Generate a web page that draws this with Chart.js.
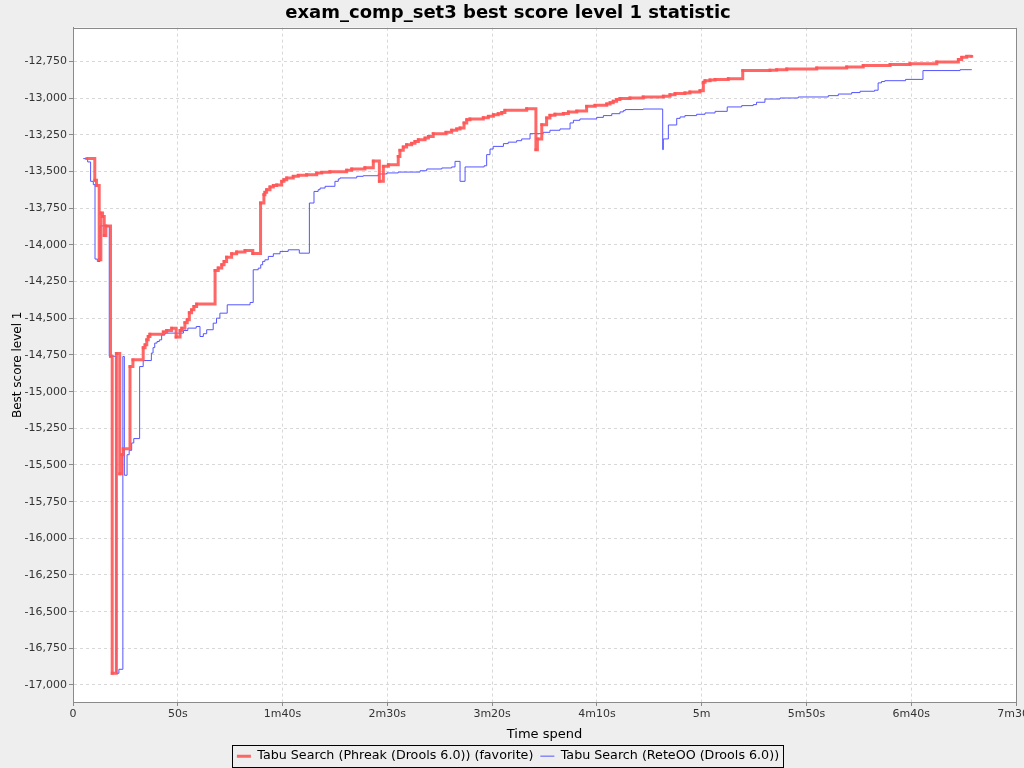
<!DOCTYPE html>
<html>
<head>
<meta charset="utf-8">
<script src="https://cdn.jsdelivr.net/npm/chart.js@4/dist/chart.umd.min.js"></script>
<style>
  html, body { margin: 0; padding: 0; background: #EEEEEE; }
  #box { width: 1024px; height: 768px; }
</style>
</head>
<body>
<div id="box"><canvas id="grafico" width="1024" height="768"></canvas></div>
<script>
// tempi in secondi, punteggi
var timeTickLabels = ['0', '50s', '1m40s', '2m30s', '3m20s', '4m10s', '5m', '5m50s', '6m40s', '7m30s'];

var redLabel = 'Tabu Search (Phreak (Drools 6.0)) (favorite)';
var redTimes = [6.5, 10.4, 11.2, 12.5, 13.3, 14.1, 14.9, 15.7, 17.9, 18.7, 20.7, 22.3, 23.2, 24.0, 27.2, 28.6,
  33.5, 34.4, 35.2, 35.9, 36.7, 43.1, 44.7, 47.1, 49.2, 51.1, 51.9, 53.4, 54.5, 55.5, 56.6, 57.7, 59.0,
  67.8, 69.3, 71.0, 72.1, 73.3, 75.7, 78.1, 82.1, 85.8, 89.5, 91.1, 91.6, 92.4, 94.0, 95.6, 97.2, 99.6,
  100.7, 102.0, 105.1, 107.5, 111.5, 116.3, 118.7, 122.6, 130.6, 133.0, 139.3, 143.3, 146.2, 148.1, 150.5,
  155.2, 156.0, 157.6, 159.2, 161.6, 163.2, 164.8, 168.0, 169.6, 171.9, 178.0, 180.7, 183.1, 184.7, 186.6,
  187.9, 189.4, 195.8, 198.2, 200.6, 202.9, 204.6, 206.1, 216.5, 220.9, 221.6, 223.7, 226.0, 227.6, 230.0,
  234.0, 236.4, 240.4, 245.1, 249.1, 254.7, 256.3, 257.8, 259.4, 261.0, 265.8, 272.1, 281.7, 284.9, 287.3,
  292.0, 294.4, 299.2, 300.8, 301.6, 304.0, 306.4, 312.7, 319.6, 332.6, 335.8, 340.6, 354.9, 369.2, 377.1,
  389.9, 399.4, 412.2, 422.5, 424.1, 426.5, 428.9];
var redScores = [-13411, -13559, -13594, -14100, -13782, -13806, -13935, -13870, -14759, -16920, -14740, -15560, -15430, -15390, -14829, -14783,
  -14701, -14681, -14647, -14624, -14608, -14593, -14583, -14567, -14628, -14583, -14567, -14530, -14510, -14462, -14442, -14419, -14403,
  -14174, -14157, -14135, -14112, -14083, -14060, -14048, -14037, -14058, -13714, -13657, -13641, -13623, -13605, -13595, -13591, -13566,
  -13555, -13543, -13532, -13525, -13521, -13510, -13505, -13500, -13490, -13482, -13473, -13428, -13566, -13464, -13453,
  -13396, -13355, -13332, -13316, -13307, -13294, -13282, -13271, -13260, -13241, -13232, -13218, -13209, -13202, -13168,
  -13146, -13141, -13132, -13123, -13112, -13105, -13096, -13082, -13071, -13350, -13277, -13180, -13134, -13116, -13109,
  -13103, -13093, -13087, -13055, -13048, -13039, -13030, -13020, -13009, -13002, -12998, -12991, -12986, -12975, -12968,
  -12964, -12957, -12948, -12891, -12880, -12875, -12871, -12866, -12811, -12809, -12805, -12800, -12793, -12786, -12777,
  -12770, -12764, -12752, -12736, -12721, -12714, -12714];

var blueLabel = 'Tabu Search (ReteOO (Drools 6.0))';
var blueTimes = [4.9, 7.0, 8.4, 9.7, 10.5, 11.6, 12.9, 17.3, 20.6, 21.9, 23.8, 24.5, 25.8, 26.8, 28.0, 29.0,
  31.8, 33.5, 37.4, 38.2, 39.0, 40.1, 41.2, 42.3, 43.9, 52.7, 54.8, 58.8, 60.6, 62.2, 63.8, 66.9, 68.5,
  70.1, 73.6, 84.5, 86.0, 88.4, 89.6, 90.5, 91.6, 93.2, 95.6, 98.8, 102.7, 108.0, 112.8, 115.0, 117.0,
  117.9, 120.3, 125.0, 126.6, 127.4, 135.4, 138.5, 145.7, 149.7, 155.2, 165.6, 168.8, 176.0, 180.7, 182.3,
  184.7, 187.1, 196.2, 197.4, 199.0, 200.5, 205.4, 207.7, 211.7, 214.1, 218.1, 224.4, 227.6, 232.4, 237.2,
  238.8, 241.9, 249.9, 253.1, 257.1, 261.0, 262.6, 263.5, 272.1, 281.4, 281.7, 284.1, 288.1, 289.7, 292.0,
  297.6, 301.6, 306.4, 312.2, 319.1, 324.6, 326.2, 330.2, 337.4, 346.1, 360.4, 365.2, 371.6, 375.6, 382.5,
  384.2, 385.8, 387.4, 397.3, 405.6, 423.3, 428.9];
var blueScores = [-13411, -13434, -13566, -13589, -14096, -14112, -13870, -14759, -16920, -16893, -14760, -15570, -15430, -15400, -15350, -15320,
  -14829, -14788, -14737, -14700, -14669, -14658, -14647, -14612, -14601, -14583, -14567, -14556, -14624, -14605, -14578, -14533, -14499,
  -14465, -14408, -14392, -14169, -14158, -14135, -14112, -14101, -14078, -14060, -14044, -14033, -14056, -13714, -13635, -13623,
  -13612, -13600, -13566, -13550, -13543, -13532, -13528, -13516, -13509, -13503, -13494, -13482, -13475, -13468, -13430,
  -13566, -13468, -13460, -13384, -13346, -13328, -13309, -13299, -13289, -13277, -13241, -13232, -13218, -13209, -13168,
  -13150, -13141, -13130, -13118, -13105, -13093, -13084, -13077, -13073, -13350, -13277, -13182, -13137, -13127, -13118,
  -13109, -13100, -13089, -13059, -13050, -13043, -13027, -13005, -12998, -12991, -12982, -12971, -12961, -12952, -12945,
  -12895, -12886, -12880, -12871, -12811, -12805, -12805];

function punti(tempi, valori) {
    var out = [];
    for (var i = 0; i < tempi.length; i++) {
        out.push({x: tempi[i], y: valori[i]});
    }
    return out;
}

Chart.defaults.font.family = '"DejaVu Sans", sans-serif';
Chart.defaults.color = '#333333';

var padBottom = -4.5;

// sfondo grigio fuori, bianco dentro, bordo del plot e riquadro della legenda
var sfondo = {
    id: 'sfondo',
    beforeDraw: function (chart) {
        var ctx = chart.ctx, a = chart.chartArea;
        ctx.save();
        ctx.fillStyle = '#EEEEEE';
        ctx.fillRect(0, 0, chart.width, chart.height);
        ctx.fillStyle = '#FFFFFF';
        ctx.fillRect(a.left, a.top, a.right - a.left, a.bottom - a.top);
        ctx.restore();
    },
    afterDraw: function (chart) {
        var ctx = chart.ctx, a = chart.chartArea;
        ctx.save();
        ctx.strokeStyle = '#8a8a8a';
        ctx.lineWidth = 1;
        ctx.strokeRect(Math.round(a.left) + 0.5, Math.round(a.top) + 0.5, Math.round(a.right - a.left), Math.round(a.bottom - a.top));
        var hb = chart.legend.legendHitBoxes;
        if (hb && hb.length) {
            var l = hb[0].left, r = hb[hb.length - 1].left + hb[hb.length - 1].width;
            var t = hb[0].top;
            ctx.strokeStyle = '#000000';
            ctx.strokeRect(Math.round(l - 5) + 0.5, Math.round(t - 5) + 0.5, Math.round(r - l + 9), Math.round(hb[0].height + 9));
        }
        ctx.restore();
    }
};

var ctx = document.getElementById('grafico');
var myLineChart = new Chart(ctx, {
    type: 'line',
    data: {
        datasets: [{
            label: redLabel,
            data: punti(redTimes, redScores),
            stepped: true,
            borderColor: 'rgba(255,85,85,0.9)',
            backgroundColor: 'rgba(255,85,85,0.9)',
            borderWidth: 3,
            pointStyle: 'rect',
            pointRadius: 2,
            pointBorderWidth: 0,
            fill: false
        }, {
            label: blueLabel,
            data: punti(blueTimes, blueScores),
            stepped: true,
            borderColor: '#5555FF',
            backgroundColor: '#5555FF',
            borderWidth: 1,
            pointRadius: 0,
            fill: false
        }]
    },
    options: {
        responsive: false,
        animation: false,
        layout: { padding: { left: 0, right: 8, top: 0, bottom: padBottom } },
        plugins: {
            title: {
                display: true,
                text: 'exam_comp_set3 best score level 1 statistic',
                color: '#000000',
                font: { size: 18, weight: 'bold' },
                padding: { top: 3, bottom: 3 }
            },
            legend: {
                position: 'bottom',
                labels: {
                    usePointStyle: true,
                    pointStyle: 'line',
                    pointStyleWidth: 14,
                    color: '#000000',
                    font: { size: 12.7 },
                    padding: 7,
                    generateLabels: function (chart) {
                        var items = Chart.defaults.plugins.legend.labels.generateLabels(chart);
                        items.forEach(function (it, i) {
                            var ds = chart.data.datasets[i];
                            it.lineWidth = ds.borderWidth;
                            it.strokeStyle = ds.borderColor;
                            it.pointStyle = 'line';
                        });
                        return items;
                    }
                }
            },
            tooltip: { enabled: false }
        },
        scales: {
            x: {
                type: 'linear',
                min: 0,
                max: 450,
                title: { display: true, text: 'Time spend', color: '#000000', font: { size: 13 }, padding: { top: 2, bottom: 0 } },
                ticks: {
                    stepSize: 50,
                    autoSkip: false,
                    maxRotation: 0,
                    padding: 2,
                    font: { size: 11 },
                    callback: function (v) { return timeTickLabels[Math.round(v / 50)]; }
                },
                grid: { color: '#d8d8d8', tickColor: '#8a8a8a', tickLength: 4 },
                border: { color: '#8a8a8a', dash: [3, 3] },
                afterFit: function (scale) {
                    scale.height = 768 - padBottom - 702 - scale.chart.legend.height;
                    scale.paddingLeft = 0;
                    scale.paddingRight = 0;
                }
            },
            y: {
                type: 'linear',
                min: -17116,
                max: -12518,
                title: { display: true, text: 'Best score level 1', color: '#000000', font: { size: 12 }, padding: { top: 11, bottom: 0 } },
                ticks: {
                    stepSize: 250,
                    padding: 2,
                    font: { size: 11 },
                    callback: function (v) { return v.toLocaleString('en-US'); }
                },
                grid: { color: '#d8d8d8', tickColor: '#8a8a8a', tickLength: 4 },
                border: { color: '#8a8a8a', dash: [3, 3] },
                afterBuildTicks: function (scale) {
                    scale.ticks = scale.ticks.filter(function (t) { return t.value % 250 === 0; });
                },
                afterFit: function (scale) {
                    scale.width = 73;
                }
            }
        }
    },
    plugins: [sfondo]
});
</script>
</body>
</html>
